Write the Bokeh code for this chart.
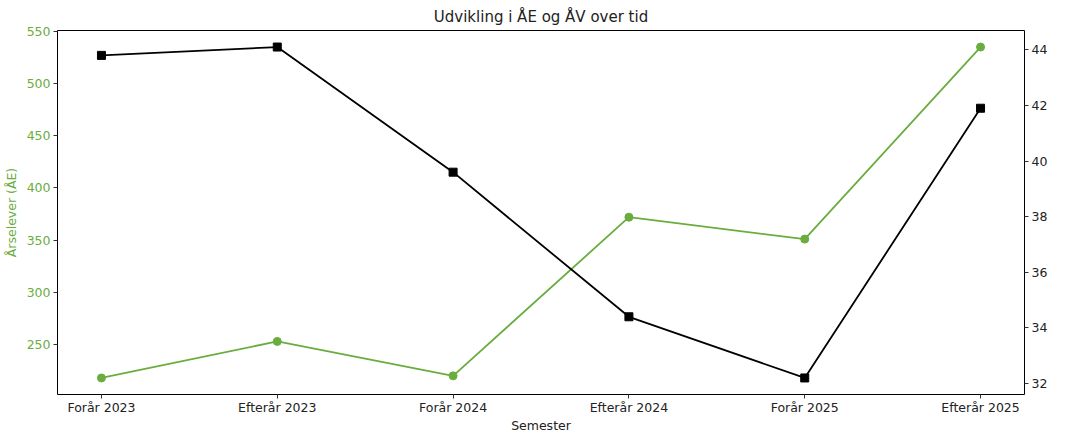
import math
from bokeh.plotting import figure
from bokeh.models import Range1d, LinearAxis, FixedTicker, Label
from bokeh.embed import file_html
from bokeh.resources import INLINE

semesters = ["Forår 2023", "Efterår 2023", "Forår 2024", "Efterår 2024", "Forår 2025", "Efterår 2025"]
ae_values = [218, 253, 220, 372, 351, 535]
av_values = [43.8, 44.1, 39.6, 34.4, 32.2, 41.9]
ae_ticks = [250, 300, 350, 400, 450, 500, 550]
av_ticks = [32, 34, 36, 38, 40, 42, 44]

GREEN = "#6aad3e"
FONT = "DejaVu Sans"

x = list(range(len(semesters)))

def padded(vals, frac=0.05):
    lo, hi = min(vals), max(vals)
    m = (hi - lo) * frac
    return lo - m, hi + m

ae_lo, ae_hi = padded(ae_values)
av_lo, av_hi = padded(av_values)
n = len(semesters) - 1

p = figure(frame_width=967, frame_height=364, output_backend="svg", toolbar_location=None,
           x_range=Range1d(-0.05 * n, n + 0.05 * n), y_range=Range1d(ae_lo, ae_hi),
           min_border_left=56, min_border_right=42, min_border_top=25, min_border_bottom=0)
p.extra_y_ranges = {"av": Range1d(av_lo, av_hi)}

p.title.text = "Udvikling i ÅE og ÅV over tid"
p.title.align = "center"
p.title.text_font = FONT
p.title.text_font_size = "15px"
p.title.text_font_style = "normal"
p.title.text_color = "#222222"

p.grid.visible = False
p.outline_line_color = "black"
p.outline_line_alpha = 1.0

p.line(x, ae_values, line_color=GREEN, line_width=1.8)
p.scatter(x, ae_values, marker="circle", size=8, fill_color=GREEN, line_color=GREEN)

p.line(x, av_values, line_color="black", line_width=1.8, y_range_name="av")
p.scatter(x, av_values, marker="square", size=8, fill_color="black", line_color="black", y_range_name="av")

def style(ax):
    ax.axis_label_text_font = FONT
    ax.axis_label_text_font_size = "12.5px"
    ax.axis_label_text_font_style = "normal"
    ax.major_label_text_font = FONT
    ax.major_label_text_font_size = "12.5px"
    ax.minor_tick_line_color = None
    ax.major_tick_out = 4
    ax.major_tick_in = 0
    ax.axis_line_color = None
    ax.major_tick_line_color = "#333333"

xa = p.xaxis[0]
style(xa)
xa.ticker = FixedTicker(ticks=x)
xa.major_label_overrides = {i: s for i, s in enumerate(semesters)}
xa.axis_label = "Semester"
xa.axis_label_standoff = 0
xa.major_label_standoff = 1
xa.major_label_text_color = "#222222"
xa.axis_label_text_color = "#222222"

ya = p.yaxis[0]
style(ya)
ya.ticker = FixedTicker(ticks=ae_ticks)
ya.axis_label = "Årselever (ÅE)"
ya.axis_label_text_color = GREEN
ya.major_label_text_color = GREEN
ya.axis_label_standoff = 5
ya.major_label_standoff = 3

ra = LinearAxis(y_range_name="av")
style(ra)
ra.ticker = FixedTicker(ticks=av_ticks)
ra.major_label_text_color = "#222222"
ra.major_label_standoff = 3
p.add_layout(ra, "right")

lbl = Label(x=n + 0.05 * n, y=(av_lo + av_hi) / 2, y_range_name="av", x_offset=32,
            text="Årsværk (ÅV)", angle=math.pi / 2, text_align="center", text_baseline="middle",
            text_font=FONT, text_font_size="12.5px", text_color="#222222")
p.add_layout(lbl)

open("out.html", "w").write(file_html(p, INLINE))
